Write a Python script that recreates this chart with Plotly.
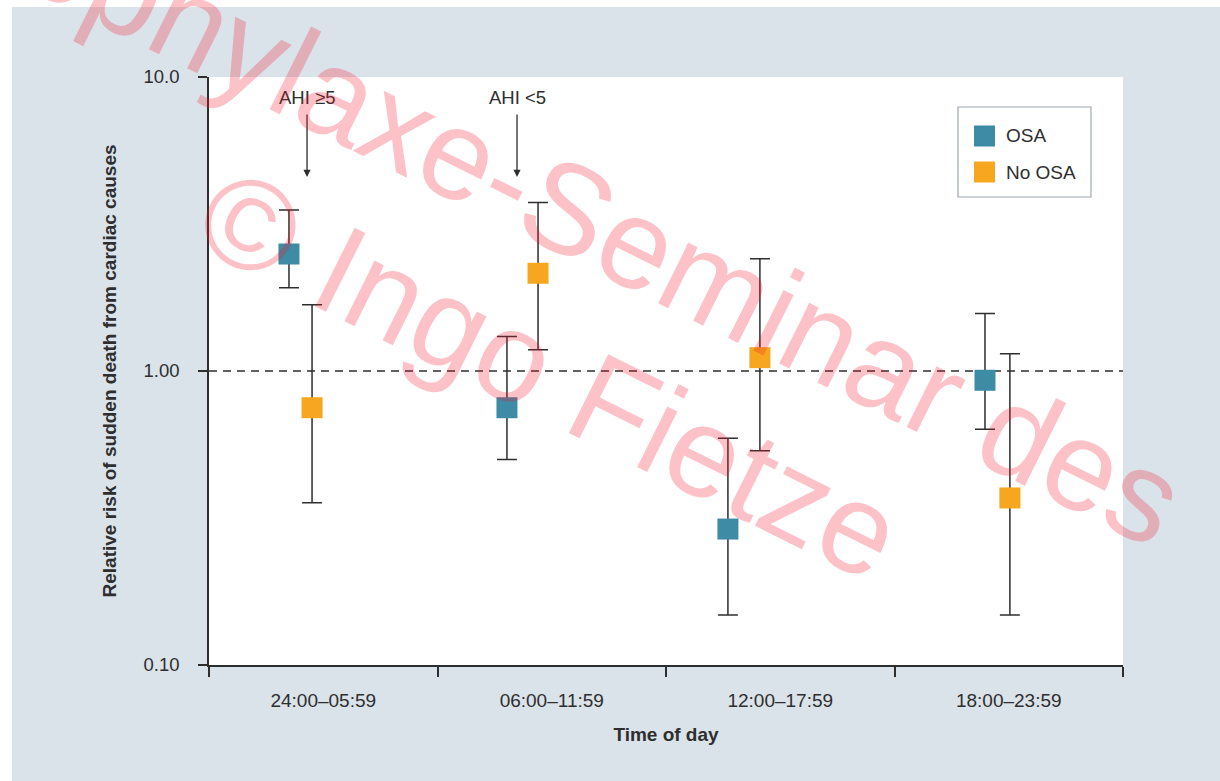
import plotly.graph_objects as go

# Time-of-day windows
periods = ["24:00\u201305:59", "06:00\u201311:59", "12:00\u201317:59", "18:00\u201323:59"]

# Relative risk of sudden cardiac death, with 95% CI bounds
osa_rr = [2.50, 0.75, 0.29, 0.93]
osa_hi = [3.53, 1.31, 0.59, 1.57]
osa_lo = [1.92, 0.50, 0.148, 0.634]

no_osa_rr = [0.75, 2.15, 1.11, 0.37]
no_osa_hi = [1.68, 3.74, 2.41, 1.145]
no_osa_lo = [0.356, 1.18, 0.535, 0.148]

# Horizontal placement of the two groups inside each time window (category units)
osa_dodge = [-0.150, -0.196, -0.229, -0.104]
no_osa_dodge = [-0.049, -0.060, -0.089, 0.005]

OSA_COLOR = "#3e8ba6"
NO_OSA_COLOR = "#f7a61f"
INK = "#2e2e2e"
FONT = "Liberation Sans, Arial, sans-serif"

# plot-area geometry (pixels) used for paper-coordinate conversions
W, H = 1220, 781
L, R, T, B = 209, 97, 77, 116
PW, PH = W - L - R, H - T - B


def px(x):
    return (x - L) / PW


def py(y):
    return (H - B - y) / PH


centers = [i + 0.5 for i in range(len(periods))]


def xs(dodge):
    return [c + d for c, d in zip(centers, dodge)]


def err(rr, hi, lo):
    return dict(
        type="data", symmetric=False,
        array=[h - r for h, r in zip(hi, rr)],
        arrayminus=[r - l for r, l in zip(rr, lo)],
        color=INK, thickness=1.5, width=10,
    )


fig = go.Figure()

# reference line at RR = 1
fig.add_trace(go.Scatter(
    x=[0, len(periods)], y=[1, 1], mode="lines",
    line=dict(color=INK, width=1.5, dash="8px,6px"),
    showlegend=False, hoverinfo="skip",
))

series = [
    ("OSA", osa_rr, osa_hi, osa_lo, osa_dodge, OSA_COLOR),
    ("No OSA", no_osa_rr, no_osa_hi, no_osa_lo, no_osa_dodge, NO_OSA_COLOR),
]

# confidence-interval whiskers
for name, rr, hi, lo, dodge, color in series:
    fig.add_trace(go.Scatter(
        x=xs(dodge), y=rr, mode="markers",
        marker=dict(size=1, opacity=0),
        error_y=err(rr, hi, lo),
        showlegend=False, hoverinfo="skip",
    ))

# point estimates
for name, rr, hi, lo, dodge, color in series:
    fig.add_trace(go.Scatter(
        x=xs(dodge), y=rr, mode="markers", name=name,
        marker=dict(symbol="square", size=21, color=color, line=dict(width=0)),
        showlegend=False,
    ))

annotations = []
shapes = [
    # white frame strips around the panel
    dict(type="rect", xref="paper", yref="paper", layer="below",
         x0=-0.3, x1=1.2, y0=py(7), y1=1.3,
         fillcolor="#ffffff", line=dict(width=0)),
    dict(type="rect", xref="paper", yref="paper", layer="below",
         x0=-0.3, x1=px(12), y0=-0.3, y1=1.3,
         fillcolor="#ffffff", line=dict(width=0)),
]

# AHI labels with downward arrows
for label, xpos in [("AHI \u22655", 0.429), ("AHI <5", 1.348)]:
    annotations.append(dict(
        x=xpos, y=py(177), xref="x", yref="paper", text="",
        showarrow=True, ax=0, ay=-64, arrowhead=2, arrowsize=1.1,
        arrowwidth=1.3, arrowcolor=INK,
    ))
    annotations.append(dict(
        x=xpos, y=py(97), xref="x", yref="paper", text=label,
        showarrow=False, xanchor="center", yanchor="middle",
        font=dict(family=FONT, size=18.5, color=INK),
    ))

# legend box
shapes.append(dict(type="rect", xref="paper", yref="paper", layer="above",
                   x0=px(958), x1=px(1091), y0=py(197), y1=py(107),
                   fillcolor="#ffffff", line=dict(color="#9ea7b0", width=1.2)))
for (name, *_rest, color), yc in zip(series, [136, 172]):
    shapes.append(dict(type="rect", xref="paper", yref="paper", layer="above",
                       x0=px(974), x1=px(995), y0=py(yc + 10.5), y1=py(yc - 10.5),
                       fillcolor=color, line=dict(width=0)))
    annotations.append(dict(
        x=px(1004), y=py(yc), xref="paper", yref="paper", text=name,
        showarrow=False, xanchor="left", yanchor="middle",
        font=dict(family=FONT, size=19, color=INK),
    ))

# watermark
for text, wx, wy in [("Prophylaxe-Seminar des", 546, 198),
                     ("\u00a9 Ingo Fietze", 549, 374)]:
    annotations.append(dict(
        x=px(wx), y=py(wy), xref="paper", yref="paper", text=text,
        showarrow=False, xanchor="center", yanchor="middle",
        textangle=26.5,
        font=dict(family=FONT, size=128, color="rgba(246,20,40,0.26)"),
    ))

fig.update_layout(
    width=W, height=H,
    margin=dict(l=L, r=R, t=T, b=B),
    paper_bgcolor="#dae3ea",
    plot_bgcolor="#ffffff",
    font=dict(family=FONT, size=19, color=INK),
    showlegend=False,
    annotations=annotations,
    shapes=shapes,
)

fig.update_xaxes(
    range=[0, len(periods)], tickvals=centers, ticktext=periods,
    ticks="", showgrid=False, zeroline=False,
    showline=True, linecolor=INK, linewidth=1.5,
    minor=dict(tickmode="array", tickvals=list(range(len(periods) + 1)),
               ticks="outside", ticklen=10, tickwidth=1.5, tickcolor=INK,
               showgrid=False),
    ticklabelstandoff=17,
    tickfont=dict(family=FONT, size=19, color=INK),
    title=dict(text="Time of day", standoff=18,
               font=dict(family=FONT, size=19, color=INK, weight="bold")),
)

fig.update_yaxes(
    type="log", range=[-1, 1],
    tickvals=[0.1, 1, 10], ticktext=["0.10", "1.00", "10.0"],
    ticks="outside", ticklen=9, tickwidth=1.5, tickcolor=INK,
    showgrid=False, zeroline=False,
    showline=True, linecolor=INK, linewidth=1.5,
    ticklabelstandoff=15,
    tickfont=dict(family=FONT, size=18.5, color=INK),
    title=dict(text="Relative risk of sudden death from cardiac causes", standoff=22,
               font=dict(family=FONT, size=19, color=INK, weight="bold")),
)

fig.write_html("out.html")
